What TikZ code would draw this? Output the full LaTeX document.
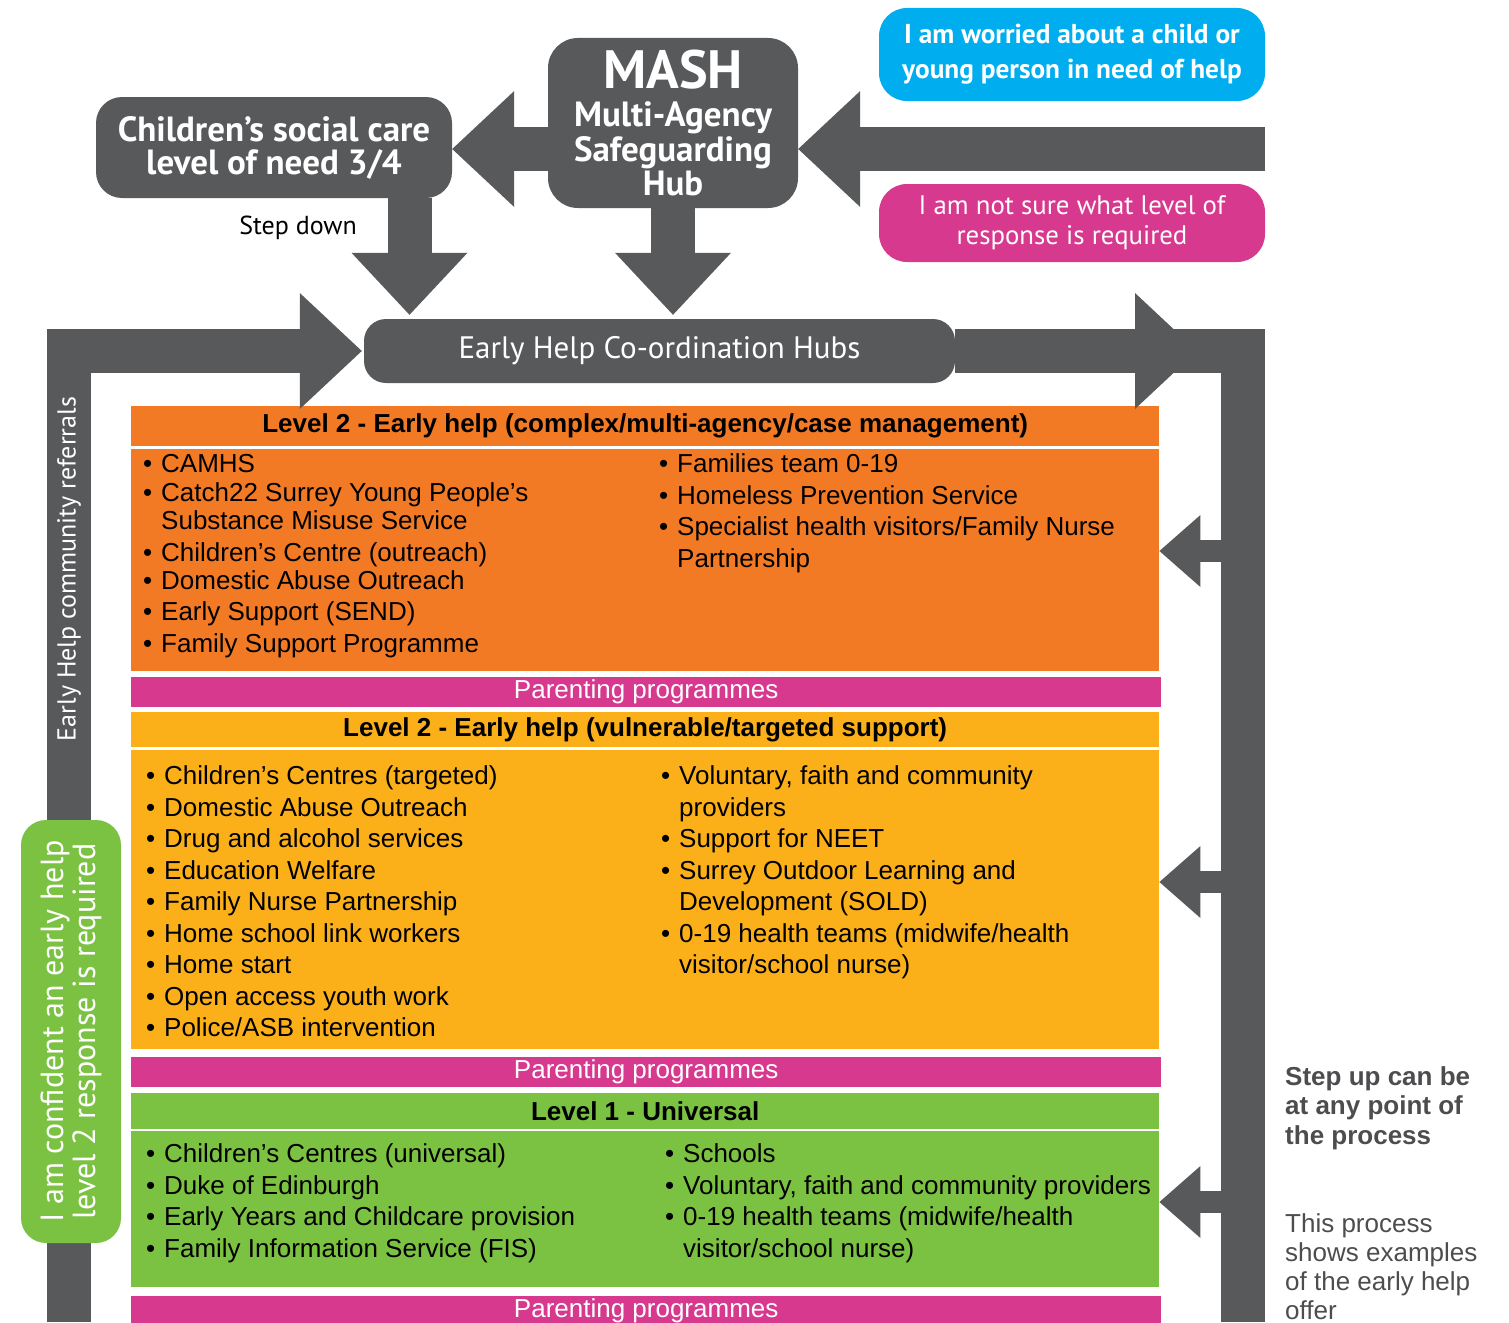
\documentclass[tikz,border=0pt]{standalone}
\usepackage{fontspec}
\setmainfont{Liberation Sans}
\newfontfamily\hubfont{PT Sans}
\usetikzlibrary{arrows.meta,positioning,calc}

\definecolor{hubgray}{HTML}{58595B}
\definecolor{lvtwoorange}{HTML}{F37A24}
\definecolor{lvtwoyellow}{HTML}{FBB01A}
\definecolor{lvonegreen}{HTML}{7CC242}
\definecolor{parentpink}{HTML}{D7398F}
\definecolor{worryblue}{HTML}{00AEEF}
\definecolor{notegray}{HTML}{4D4D4F}

\newcommand{\bul}{\makebox[18pt][l]{\textbullet}}
\newcommand{\bulgap}{\hspace*{18pt}}

\tikzset{
  bigarrow/.style={draw=hubgray, line width=44pt,
    -{Triangle[length=62pt 0 0, width=116pt 0 0, line width=0pt 0 0]}},
  smallarrow/.style={draw=hubgray, line width=22pt,
    -{Triangle[length=41pt 0 0, width=72pt 0 0, line width=0pt 0 0]}},
  upline/.style={draw=hubgray, line width=44pt},
  greybox/.style={fill=hubgray, rounded corners=26pt, text=white, inner sep=0pt, align=center},
  band/.style={inner sep=0pt, minimum width=1028pt, anchor=north west, font=\fontsize{26}{30}\selectfont},
  bandhead/.style={band, font=\bfseries\fontsize{26}{30}\selectfont},
  parentbar/.style={band, fill=parentpink, minimum width=1030pt, minimum height=30pt, text=white},
  item/.style={anchor=west, inner sep=0pt, font=\fontsize{26}{30}\selectfont, text height=21pt, text depth=3pt},
}

\begin{document}
\begin{tikzpicture}[x=1pt, y=-1pt]
\useasboundingbox (0,0) rectangle (1509,1322);

% top boxes
\node[greybox, minimum width=356pt, minimum height=101pt,
  font=\hubfont\bfseries\fontsize{35}{33}\selectfont] (csc) at (274,147.5)
  {Children’s social care\\level of need 3/4};
\node[greybox, rounded corners=30pt, minimum width=250pt, minimum height=170pt,
  font=\hubfont\bfseries\fontsize{35}{34.5}\selectfont] (mash) at (673,123)
  {{\fontsize{54}{54}\selectfont MASH}\\[4pt]Multi-Agency\\Safeguarding\\Hub};
\node[fill=worryblue, rounded corners=28pt, minimum width=386pt, minimum height=93pt, inner sep=0pt,
  text=white, align=center, font=\hubfont\bfseries\fontsize{27.3}{35}\selectfont] (worried) at (1072,54.5)
  {I am worried about a child or\\young person in need of help};
\node[fill=parentpink, rounded corners=28pt, minimum width=386pt, minimum height=78pt, inner sep=0pt,
  text=white, align=center, font=\hubfont\fontsize{26.8}{30}\selectfont] (unsure) at (1072,223)
  {I am not sure what level of\\response is required};
\node[greybox, rounded corners=22pt, minimum width=591pt, minimum height=64pt,
  font=\hubfont\fontsize{31}{36}\selectfont] (ehhub) at (659.5,351) {Early Help Co-ordination Hubs};
\node[anchor=east, inner sep=0pt, font=\hubfont\fontsize{26}{30}\selectfont] (stepdown) at (357,228) {Step down};

% level bands
\node[bandhead, fill=lvtwoorange, minimum height=40pt] (h2c) at (131,406)
  {Level 2 - Early help (complex/multi-agency/case management)};
\node[band, fill=lvtwoorange, minimum height=222pt] (b2c) at (131,449) {};
\node[parentbar] (pp1) at (131,677) {Parenting programmes};
\node[bandhead, fill=lvtwoyellow, minimum height=35pt] (h2v) at (131,712)
  {Level 2 - Early help (vulnerable/targeted support)};
\node[band, fill=lvtwoyellow, minimum height=299pt] (b2v) at (131,750) {};
\node[parentbar] (pp2) at (131,1057) {Parenting programmes};
\node[bandhead, fill=lvonegreen, minimum height=36pt] (h1u) at (131,1093) {Level 1 - Universal};
\node[band, fill=lvonegreen, minimum height=156pt] (b1u) at (131,1131) {};
\node[parentbar] (pp3) at (131,1296) {Parenting programmes};

% lists
\foreach \y/\t [count=\i] in {463/{\bul CAMHS}, 492/{\bul Catch22 Surrey Young People’s},
  520/{\bulgap Substance Misuse Service}, 552/{\bul Children’s Centre (outreach)},
  580/{\bul Domestic Abuse Outreach}, 611/{\bul Early Support (SEND)}, 643/{\bul Family Support Programme}}
  \node[item] (cl\i) at (143,\y) {\t};
\foreach \y/\t [count=\i] in {463/{\bul Families team 0-19}, 495/{\bul Homeless Prevention Service},
  526/{\bul Specialist health visitors/Family Nurse}, 558/{\bulgap Partnership}}
  \node[item] (cr\i) at (659,\y) {\t};
\foreach \y/\t [count=\i] in {775/{\bul Children’s Centres (targeted)}, 807/{\bul Domestic Abuse Outreach},
  838/{\bul Drug and alcohol services}, 870/{\bul Education Welfare}, 901/{\bul Family Nurse Partnership},
  933/{\bul Home school link workers}, 964/{\bul Home start}, 996/{\bul Open access youth work},
  1027/{\bul Police/ASB intervention}}
  \node[item] (vl\i) at (146,\y) {\t};
\foreach \y/\t [count=\i] in {775/{\bul Voluntary, faith and community}, 807/{\bulgap providers},
  838/{\bul Support for NEET}, 870/{\bul Surrey Outdoor Learning and}, 901/{\bulgap Development (SOLD)},
  933/{\bul 0-19 health teams (midwife/health}, 964/{\bulgap visitor/school nurse)}}
  \node[item] (vr\i) at (661,\y) {\t};
\foreach \y/\t [count=\i] in {1153/{\bul Children’s Centres (universal)}, 1185/{\bul Duke of Edinburgh},
  1216/{\bul Early Years and Childcare provision}, 1248/{\bul Family Information Service (FIS)}}
  \node[item] (ul\i) at (146,\y) {\t};
\foreach \y/\t [count=\i] in {1153/{\bul Schools}, 1185/{\bul Voluntary, faith and community providers},
  1216/{\bul 0-19 health teams (midwife/health}, 1248/{\bulgap visitor/school nurse)}}
  \node[item] (ur\i) at (665,\y) {\t};

% arrows
\coordinate (entry) at (1265,149);
\coordinate (stepx) at (409.5,0);
\coordinate (refbase) at (69,1322);
\coordinate (upbase) at (1243,1322);
\coordinate (uptip) at (1197,0);
\draw[bigarrow] (entry) -- (entry -| mash.east);
\draw[bigarrow] (mash.west |- entry) -- (csc.east |- entry);
\draw[bigarrow, shorten >=4pt] (csc.south -| stepx) -- (ehhub.north -| stepx);
\draw[bigarrow, shorten >=4pt] (mash.south) -- (mash.south |- ehhub.north);
\draw[bigarrow, shorten >=2pt] (refbase) |- (ehhub.west);
\draw[upline] (ehhub.east) -| (upbase);
\draw[bigarrow] (ehhub.east) -- (ehhub.east -| uptip);

% step up arrows
\coordinate (su1) at (1243,551);
\coordinate (su2) at (1243,882);
\coordinate (su3) at (1243,1202);
\draw[smallarrow] (su1) -- (su1 -| b2c.east);
\draw[smallarrow] (su2) -- (su2 -| b2v.east);
\draw[smallarrow] (su3) -- (su3 -| b1u.east);

% left side texts
\node[rotate=90, inner sep=0pt, text=white, font=\hubfont\fontsize{26}{30}\selectfont] (reftext) at (69,569)
  {Early Help community referrals};
\node[fill=lvonegreen, rounded corners=25pt, minimum width=423pt, minimum height=100pt, inner sep=0pt,
  rotate=90, text=white, align=center, font=\hubfont\fontsize{32}{32}\selectfont] (confident) at (71,1031.5)
  {I am confident an early help\\level 2 response is required};

% notes on the right
\node[anchor=north west, inner sep=0pt, align=left, text=notegray,
  font=\bfseries\fontsize{26}{29.5}\selectfont] (stepup) at (1285,1066)
  {Step up can be\\at any point of\\the process};
\node[anchor=north west, inner sep=0pt, align=left, text=notegray,
  font=\fontsize{26}{29}\selectfont] (offer) at (1285,1213)
  {This process\\shows examples\\of the early help\\offer};
\end{tikzpicture}
\end{document}
